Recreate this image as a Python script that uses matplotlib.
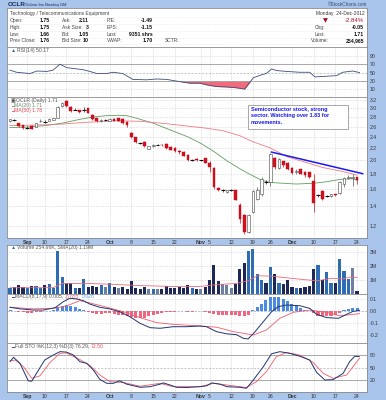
import numpy as np
import matplotlib.pyplot as plt
from matplotlib import transforms
from matplotlib.ticker import NullLocator

plt.rcParams['font.family'] = ['Liberation Sans', 'DejaVu Sans']

W, H = 386, 400
BG = '#a9c5ec'
GRID = '#c8c8c8'
FS = 3.7

# trading-day index: 0 = 28-Aug-2012 ... 80 = 24-Dec-2012
tick_days = [4, 8, 13, 18, 23, 28, 33, 38, 44, 46, 51, 56, 60, 65, 70, 75, 80]
tick_labels = ['Sep', '10', '17', '24', 'Oct', '8', '15', '22', 'Nov', '5',
               '12', '19', '26', 'Dec', '10', '17', '24']
month_labels = ['Sep', 'Oct', 'Nov', 'Dec']

opens = [2.72, 2.74, 2.67, 2.63, 2.58, 2.62, 2.60, 2.71, 2.70, 2.72,
         2.74, 2.78, 3.06, 3.18, 3.04, 2.97, 2.96, 2.96, 3.00, 2.85,
         2.77, 2.72, 2.74, 2.72, 2.76, 2.77, 2.76, 2.70, 2.47, 2.39,
         2.29, 2.31, 2.19, 2.23, 2.26, 2.26, 2.27, 2.22, 2.20, 2.15,
         2.14, 2.09, 2.01, 2.02, 2.00, 2.03, 1.96, 1.88, 1.61, 1.58,
         1.56, 1.58, 1.58, 1.41, 1.30, 1.14, 1.33, 1.48, 1.53, 1.69,
         1.69, 2.03, 1.88, 1.98, 1.96, 1.88, 1.82, 1.86, 1.83, 1.82,
         1.70, 1.52, 1.57, 1.51, 1.51, 1.53, 1.55, 1.66, 1.74, 1.74,
         1.75]
highs = [2.76, 2.76, 2.68, 2.64, 2.62, 2.63, 2.68, 2.76, 2.73, 2.77,
         2.78, 3.06, 3.14, 3.20, 3.05, 3.00, 2.97, 3.02, 3.01, 2.86,
         2.78, 2.75, 2.76, 2.77, 2.77, 2.78, 2.77, 2.72, 2.50, 2.40,
         2.31, 2.32, 2.24, 2.27, 2.27, 2.27, 2.28, 2.23, 2.21, 2.17,
         2.15, 2.10, 2.02, 2.03, 2.01, 2.04, 1.98, 1.89, 1.62, 1.60,
         1.59, 1.60, 1.59, 1.43, 1.31, 1.31, 1.58, 1.62, 1.76, 1.71,
         2.12, 2.05, 2.04, 1.99, 1.97, 1.90, 1.86, 1.87, 1.84, 1.83,
         1.80, 1.54, 1.58, 1.52, 1.54, 1.54, 1.70, 1.76, 1.78, 1.80,
         1.75]
lows = [2.70, 2.72, 2.60, 2.55, 2.55, 2.55, 2.59, 2.69, 2.68, 2.71,
        2.73, 2.77, 3.02, 3.04, 2.92, 2.95, 2.90, 2.92, 2.89, 2.73,
        2.70, 2.70, 2.72, 2.71, 2.71, 2.71, 2.66, 2.60, 2.38, 2.29,
        2.27, 2.22, 2.18, 2.22, 2.25, 2.24, 2.19, 2.16, 2.14, 2.10,
        2.06, 1.99, 1.99, 1.99, 1.98, 1.95, 1.82, 1.60, 1.57, 1.56,
        1.55, 1.57, 1.46, 1.22, 1.12, 1.13, 1.32, 1.46, 1.51, 1.66,
        1.64, 1.87, 1.86, 1.90, 1.85, 1.80, 1.79, 1.79, 1.76, 1.74,
        1.33, 1.50, 1.47, 1.50, 1.50, 1.51, 1.54, 1.62, 1.72, 1.64,
        1.66]
closes = [2.75, 2.74, 2.62, 2.57, 2.58, 2.56, 2.67, 2.72, 2.70, 2.75,
          2.77, 3.04, 3.12, 3.06, 2.93, 2.97, 2.92, 2.96, 2.90, 2.75,
          2.72, 2.74, 2.74, 2.76, 2.72, 2.72, 2.68, 2.63, 2.39, 2.31,
          2.29, 2.23, 2.23, 2.26, 2.26, 2.25, 2.20, 2.17, 2.15, 2.13,
          2.07, 2.00, 2.01, 2.00, 2.00, 1.96, 1.90, 1.62, 1.58, 1.58,
          1.58, 1.58, 1.47, 1.26, 1.14, 1.30, 1.57, 1.58, 1.73, 1.69,
          2.10, 1.89, 2.02, 1.92, 1.87, 1.81, 1.84, 1.80, 1.78, 1.76,
          1.43, 1.52, 1.48, 1.51, 1.53, 1.52, 1.68, 1.74, 1.76, 1.76,
          1.71]

# volume in millions of shares
volumes = [0.43, 0.52, 0.65, 0.52, 0.43, 0.60, 0.55, 0.43, 0.67, 0.72,
           0.43, 3.07, 1.20, 0.79, 0.77, 0.43, 0.43, 1.05, 0.48, 0.60,
           0.52, 0.65, 0.52, 0.79, 0.52, 0.43, 0.48, 0.36, 0.96, 0.43,
           0.36, 0.52, 0.34, 0.34, 0.34, 0.34, 0.55, 0.43, 0.43, 0.52,
           0.43, 0.62, 0.43, 0.34, 0.34, 0.48, 1.00, 2.08, 0.96, 0.72,
           0.65, 0.43, 0.72, 1.80, 2.20, 3.07, 3.23, 1.43, 1.00, 0.77,
           1.96, 1.43, 0.77, 0.72, 1.00, 0.52, 0.43, 0.41, 0.48, 0.60,
           1.80, 2.08, 1.00, 1.60, 0.77, 0.77, 2.52, 1.67, 1.10, 1.84,
           0.25]
vol_sma_days = [0, 10, 12, 18, 23, 30, 40, 44, 48, 52, 55, 57, 60, 64, 68, 71, 74, 77, 78, 80]
vol_sma = [0.45, 0.45, 0.75, 0.75, 0.70, 0.60, 0.52, 0.55, 0.68, 0.75,
           0.95, 1.30, 1.28, 1.15, 1.02, 0.95, 1.12, 1.08, 1.20, 1.19]

ma20_days = [0, 4, 8, 12, 16, 19, 22, 25, 27, 29, 33, 37, 41, 44, 47, 50,
             53, 55, 58, 60, 63, 66, 70, 73, 76, 79, 80]
ma20 = [2.58, 2.59, 2.62, 2.67, 2.75, 2.80, 2.83, 2.84, 2.83, 2.78, 2.67,
        2.53, 2.40, 2.28, 2.14, 1.99, 1.87, 1.80, 1.71, 1.68, 1.67, 1.66,
        1.67, 1.69, 1.72, 1.73, 1.71]
ma50_days = [0, 10, 18, 24, 30, 36, 41, 45, 49, 53, 56, 60, 64, 68, 72, 76, 80]
ma50 = [2.62, 2.64, 2.69, 2.72, 2.71, 2.66, 2.61, 2.57, 2.52, 2.42, 2.31,
        2.20, 2.05, 1.97, 1.89, 1.84, 1.78]
trend_days = [60.3, 81.3]
trend_vals = [2.13, 1.80]
price_ticks = [1.2, 1.4, 1.6, 1.8, 2.0, 2.2, 2.4, 2.6, 2.8, 3.0, 3.2]

rsi_days = [0, 1.5, 4.6, 6.2, 8.5, 9.9, 11.5, 13.1, 15.4, 16.9, 18.4, 20,
            22.3, 23.7, 26, 28.3, 31.5, 33.8, 36.1, 38.4, 41.5, 43.8, 45.3,
            47.6, 49.9, 52.2, 54.1, 56.1, 58, 59.1, 60.3, 61.5, 63.8, 66.8,
            69.1, 70.3, 72.1, 75.3, 76.7, 79, 80.6]
rsi = [56, 51, 48, 54, 53, 56, 70, 62, 59, 57, 53, 48, 48, 51, 48, 34, 33,
       35, 34, 30, 25, 25, 21, 17, 16, 14, 11, 38, 45, 48, 59, 55, 53, 51,
       51, 40, 41, 43, 51, 54, 50.17]

macd_days = [0, 2.3, 5.4, 7.7, 10.4, 12.3, 13.8, 15.4, 16.9, 18.4, 20.7, 23,
             25.3, 27.6, 30, 32.3, 34.6, 37.6, 40.7, 43.8, 45.3, 47.6, 49.9,
             52.2, 53.8, 54.9, 56.5, 58.4, 60.3, 61.8, 63.7, 66.8, 69.1,
             70.7, 73, 75.7, 77.6, 79.1, 80.6]
macd = [0.031, 0.018, 0.008, 0.008, 0.028, 0.078, 0.106, 0.100, 0.086,
        0.058, 0.031, 0.017, -0.006, -0.047, -0.103, -0.139, -0.144, -0.131,
        -0.131, -0.125, -0.131, -0.172, -0.190, -0.197, -0.228, -0.233,
        -0.172, -0.089, -0.006, 0.036, 0.050, 0.044, 0.022, -0.028, -0.055,
        -0.061, -0.028, -0.003, 0.005]
signal_days = [0, 5.4, 10, 13, 16.1, 19.2, 23, 26.9, 30, 33.8, 37.6, 43.8,
               47.6, 51.5, 56.1, 59.1, 62.2, 65.3, 69.1, 73, 76, 79.1, 80.6]
signal = [0.031, 0.018, 0.022, 0.042, 0.086, 0.060, 0.025, -0.014, -0.056,
          -0.097, -0.111, -0.125, -0.135, -0.172, -0.200, -0.158, -0.061,
          -0.011, 0.008, -0.011, -0.040, -0.028, -0.022]
macd_hist = [0.005, 0.003, -0.005, -0.012, -0.015, -0.015, -0.010, -0.005,
             -0.002, 0.003, 0.010, 0.030, 0.045, 0.050, 0.045, 0.035, 0.020,
             0.005, -0.010, -0.020, -0.025, -0.025, -0.020, -0.020, -0.025,
             -0.030, -0.035, -0.040, -0.050, -0.055, -0.060, -0.055, -0.045,
             -0.035, -0.025, -0.015, -0.010, -0.008, -0.005, -0.004, -0.004,
             -0.006, -0.005, -0.004, -0.003, -0.008, -0.015, -0.025, -0.030,
             -0.035, -0.035, -0.030, -0.035, -0.040, -0.045, -0.030, 0.010,
             0.030, 0.060, 0.090, 0.115, 0.120, 0.115, 0.100, 0.085, 0.060,
             0.040, 0.025, 0.010, 0.002, -0.020, -0.040, -0.045, -0.045,
             -0.040, -0.030, -0.015, 0.005, 0.015, 0.025, 0.027]

stok_days = [0, 0.8, 2.3, 4.2, 5, 6.1, 8, 10, 11.5, 13, 14.6, 16.1, 17.7,
             19.2, 20.7, 22.3, 23.8, 25.3, 26.9, 30, 32.3, 34.6, 35.3, 36.9,
             38.4, 40.7, 43.8, 45.3, 46.5, 48.4, 50, 53, 54.5, 56.1, 58.4,
             60.3, 62.2, 64.5, 66.8, 69.1, 70.7, 72.6, 74.5, 76.8, 78.3,
             79.5, 80.5]
stok = [64, 74.5, 60, 18, 17, 36, 68, 80, 88, 87, 80, 64, 60, 44, 21.6, 12,
        12, 18, 10, 2.5, 4, 10, 13, 8, 2.5, 2, 4, 6, 13, 10, 4, 2.5, 0, 20,
        52, 83, 88, 84, 77, 68, 38, 20, 21, 36, 64, 77, 76.29]
stod_days = [0, 1.2, 3.1, 5, 6.9, 9.2, 11.5, 13, 16.1, 18.4, 20.7, 23, 26.1,
             30, 34.6, 37.6, 43.8, 46.9, 51.5, 54.5, 56.8, 59.1, 61.4, 63.7,
             66.8, 69.9, 72.2, 74.5, 77.6, 80.6]
stod = [66, 68, 52, 24, 30, 62, 84, 85, 69, 55, 32, 16, 14, 5, 12, 4, 4, 12,
        6, 2, 16, 40, 76, 86, 80, 62, 36, 24, 32, 72.5]


def fx(px):
    return px / W


def fy(py):
    return 1 - py / H


fig = plt.figure(figsize=(W / 100, H / 100), dpi=100, facecolor=BG)
renderer = fig.canvas.get_renderer()


def run_text(ax, x, y, parts, fs=FS, gap=1.2):
    """Draw coloured text pieces one after another on a line."""
    tr = ax.transData
    for s, c in parts:
        t = ax.text(x, y, s, color=c, fontsize=fs, va='center', transform=tr)
        w = t.get_window_extent(renderer=renderer).width
        tr = transforms.offset_copy(t.get_transform(), fig=fig, x=w + gap, units='dots')


def make_panel(top, bottom, ylim, yticks, ylabels):
    ax = fig.add_axes([fx(7), fy(bottom), fx(367) - fx(7), (bottom - top) / H])
    ax.set_facecolor('white')
    for s in ax.spines.values():
        s.set_color('#8a8a8a')
        s.set_linewidth(0.6)
    ax.set_xlim(-0.7, 82.3)
    ax.set_ylim(*ylim)
    ax.yaxis.tick_right()
    ax.set_yticks(yticks)
    ax.set_yticklabels(ylabels)
    ax.yaxis.set_minor_locator(NullLocator())
    ax.tick_params(axis='y', length=0, pad=2, labelsize=FS, colors='#333333')
    ax.set_xticks([])
    for t in tick_days:
        ax.axvline(t, color=GRID, lw=0.5, ls=(0, (1, 1.5)), zorder=0)
    return ax


def bottom_labels(ax):
    ax.set_xticks(tick_days)
    ax.set_xticklabels(tick_labels)
    ax.tick_params(axis='x', length=0, pad=1.5, labelsize=FS, colors='#333333')
    for lab in ax.get_xticklabels():
        if lab.get_text() in month_labels:
            lab.set_fontweight('bold')


# ---- title + header ----
fig.text(fx(8), fy(4.6), 'OCLR', fontsize=4.6, fontweight='bold', color='#1a2a5a', va='center')
fig.text(fx(25), fy(4.6), 'Oclaro Inc.', fontsize=3.1, color='#1a2a5a', va='center')
fig.text(fx(45), fy(4.6), 'Nasdaq GM', fontsize=2.9, color='#1a2a5a', va='center')
fig.text(fx(367), fy(4.6), '\u00a9StockCharts.com', fontsize=3.3, color='#34466e', va='center', ha='right')

hd = fig.add_axes([fx(7), fy(47), fx(367) - fx(7), 39 / H])
hd.set_xlim(7, 367)
hd.set_ylim(47, 8)
hd.set_xticks([])
hd.set_yticks([])
for s in hd.spines.values():
    s.set_color('#8a8a8a')
    s.set_linewidth(0.6)
for yy in [17.4, 24.0, 30.8, 37.6, 44.3]:
    hd.plot([9, 365], [yy, yy], color='#dcdcdc', lw=0.4, ls=(0, (1, 1.5)))

rows_y = [20.7, 27.3, 34.3, 41.0]
col1 = [('Open:', '1.75'), ('High:', '1.75'), ('Low:', '1.66'), ('Prev Close:', '1.76')]
col2 = [('Ask:', '2.11'), ('Ask Size:', '3'), ('Bid:', '1.05'), ('Bid Size:', '10')]
col3 = [('P/E:', '-1.49'), ('EPS:', '-1.15'), ('Last:', '9351 shrs'), ('VWAP:', '1.70')]
lab_kw = dict(fontsize=3.5, color='#444444', va='center')
val_kw = dict(fontsize=3.7, color='#111111', va='center', ha='right', fontweight='bold')
hd.text(10, 14, 'Technology / Telecommunications Equipment', **lab_kw)
hd.text(365, 14, 'Monday  24-Dec-2012', fontsize=3.5, color='#333333', va='center', ha='right')
for k, yy in enumerate(rows_y):
    hd.text(10, yy, col1[k][0], **lab_kw)
    hd.text(50, yy, col1[k][1], **val_kw)
    hd.text(62, yy, col2[k][0], **lab_kw)
    hd.text(89, yy, col2[k][1], **val_kw)
    hd.text(107, yy, col3[k][0], **lab_kw)
    hd.text(153, yy, col3[k][1], **val_kw)
hd.text(165, 41.0, 'SCTR:', **lab_kw)
hd.text(325, 20.9, '\u25bc', fontsize=4.6, color='#9a0e1e', va='center', ha='center',
        family='DejaVu Sans')
hd.text(364, 20.7, '-2.84%', fontsize=4.3, color='#a0102a', va='center', ha='right')
hd.text(315, 27.3, 'Chg:', **lab_kw)
hd.text(364, 27.3, '-0.05', **val_kw)
hd.text(315, 34.3, 'Last:', **lab_kw)
hd.text(364, 34.3, '1.71', **val_kw)
hd.text(311, 41.0, 'Volume:', **lab_kw)
hd.text(364, 41.0, '254,965', **val_kw)

# ---- RSI panel ----
ax_r = make_panel(47, 97, (-7.9, 111.2), [10, 30, 50, 70, 90], ['10', '30', '50', '70', '90'])
for lvl in [10, 90]:
    ax_r.axhline(lvl, color=GRID, lw=0.5, ls=(0, (1, 1.5)), zorder=0)
ax_r.axhline(70, color='#9a9a9a', lw=0.6)
ax_r.axhline(30, color='#9a9a9a', lw=0.6)
ax_r.axhline(50, color='#b0b0b0', lw=0.5, ls=(0, (3, 2)))
r_arr = np.array(rsi)
ax_r.fill_between(rsi_days, r_arr, 30, where=r_arr < 30, interpolate=True, color='#f06b7c', lw=0)
ax_r.plot(rsi_days, rsi, color='#3d4c7c', lw=0.6)
run_text(ax_r, 0.2, 103, [('\u25b2', '#3a6ab0'), ('RSI(14) 50.17', '#555555')], gap=0.6)

# ---- price panel ----
ax_p = make_panel(97, 238, (1.089, 3.276), price_ticks, [f'{v:.1f}' for v in price_ticks])
ax_p.set_yscale('log')
ax_p.set_ylim(1.089, 3.276)
ax_p.set_yticks(price_ticks)
ax_p.set_yticklabels([f'{v:.1f}' for v in price_ticks])
ax_p.yaxis.set_minor_locator(NullLocator())
for v in price_ticks:
    ax_p.axhline(v, color=GRID, lw=0.5, ls=(0, (1, 1.5)), zorder=0)
bottom_labels(ax_p)

days = np.arange(len(closes))
for i in days:
    o, h, l, c = opens[i], highs[i], lows[i], closes[i]
    if c < o:
        ax_p.vlines(i, l, h, color='#cc1122', lw=0.5, zorder=3)
        ax_p.bar(i, o - c, bottom=c, width=0.62, color='#d8101e', edgecolor='#b00a18', lw=0.3, zorder=4)
    elif c > o:
        ax_p.vlines(i, l, h, color='#555555', lw=0.5, zorder=3)
        ax_p.bar(i, c - o, bottom=o, width=0.62, color='white', edgecolor='#444444', lw=0.4, zorder=4)
    else:
        ax_p.vlines(i, l, h, color='#222222', lw=0.5, zorder=3)
        ax_p.hlines(c, i - 0.45, i + 0.45, color='#111111', lw=0.8, zorder=4)

ax_p.plot(ma20_days, ma20, color='#5f9e5f', lw=0.6, zorder=2)
ax_p.plot(ma50_days, ma50, color='#f07a84', lw=0.6, zorder=2)
ax_p.plot(trend_days, trend_vals, color='#1a1aee', lw=1.1, zorder=5, clip_on=False)

run_text(ax_p, 0.2, 3.19, [('\u25a3', '#444444'), ('OCLR (Daily) 1.71', '#555555')], gap=0.6)
run_text(ax_p, 0.2, 3.07, [('\u2501', '#5f9e5f'), ('MA(20) 1.71', '#6a8a6a')], gap=0.4)
run_text(ax_p, 0.2, 2.955, [('\u2501', '#f05060'), ('MA(50) 1.78', '#e04858')], gap=0.4)

# annotation box
box = plt.Rectangle((fx(248), fy(128.5)), fx(348) - fx(248), 23.5 / H,
                    transform=fig.transFigure, facecolor='white',
                    edgecolor='#9a9a9a', lw=0.6, zorder=10)
fig.patches.append(box)
fig.text(fx(251), fy(107.3),
         'Semiconductor stock, strong\nsector. Watching over 1.83 for\nmovements.',
         fontsize=3.95, color='#1a1ae6', fontweight='bold', va='top', ha='left',
         linespacing=1.3, zorder=11)

# ---- volume panel ----
ax_v = make_panel(245, 294, (0, 3.5), [1, 2, 3], ['1M', '2M', '3M'])
for v in [1, 2, 3]:
    ax_v.axhline(v, color=GRID, lw=0.5, ls=(0, (1, 1.5)), zorder=0)
vol_colors = []
for i in days:
    prev = closes[i - 1] if i > 0 else opens[i]
    if closes[i] > prev:
        vol_colors.append('#2f6db2')
    elif closes[i] < prev:
        vol_colors.append('#1d2858')
    else:
        vol_colors.append('#6c7fa4')
ax_v.bar(days, volumes, width=0.72, color=vol_colors, zorder=2)
ax_v.plot(vol_sma_days, vol_sma, color='#f06878', lw=0.6, zorder=3)
run_text(ax_v, 0.2, 3.3, [('\u25b2', '#3a6ab0'), ('Volume 254.96K, SMA(20) 1.19M', '#555555')], gap=0.6)

# ---- MACD panel ----
ax_m = make_panel(294, 343, (-0.2667, 0.1417), [-0.2, -0.1, 0.0, 0.1], ['-0.2', '-0.1', '0.0', '0.1'])
for v in [-0.2, -0.1, 0.1]:
    ax_m.axhline(v, color=GRID, lw=0.5, ls=(0, (1, 1.5)), zorder=0)
ax_m.axhline(0, color='#8ea2c8', lw=0.5, ls=(0, (3, 2)), zorder=1)
hist_colors = ['#4a8be0' if h >= 0 else '#f0667e' for h in macd_hist]
ax_m.bar(days, macd_hist, width=0.7, color=hist_colors, zorder=2)
ax_m.plot(signal_days, signal, color='#f05a6a', lw=0.6, zorder=3)
ax_m.plot(macd_days, macd, color='#1f3470', lw=0.7, zorder=4)
run_text(ax_m, 0.2, 0.122, [('\u2501', '#1f3470'), ('MACD(8,17,9) 0.005,', '#555555'),
                            ('-0.022,', '#f05060'), ('0.028', '#6a9ae0')], gap=1.2)

# ---- Full stochastics panel ----
ax_s = make_panel(343, 392, (-8.8, 108.8), [20, 50, 80], ['20', '50', '80'])
ax_s.axhline(80, color='#9a9a9a', lw=0.6)
ax_s.axhline(20, color='#9a9a9a', lw=0.6)
ax_s.axhline(50, color='#b0b0b0', lw=0.5, ls=(0, (3, 2)))
ax_s.plot(stod_days, stod, color='#f05a6a', lw=0.6)
ax_s.plot(stok_days, stok, color='#1f3470', lw=0.7)
bottom_labels(ax_s)
run_text(ax_s, 0.2, 101, [('\u2501', '#1f3470'), ('Full STO %K(12,3) %D(3) 76.29,', '#555555'),
                          ('72.50', '#f05060')], gap=1.2)

fig.savefig('out.png', dpi=100, facecolor=BG)
